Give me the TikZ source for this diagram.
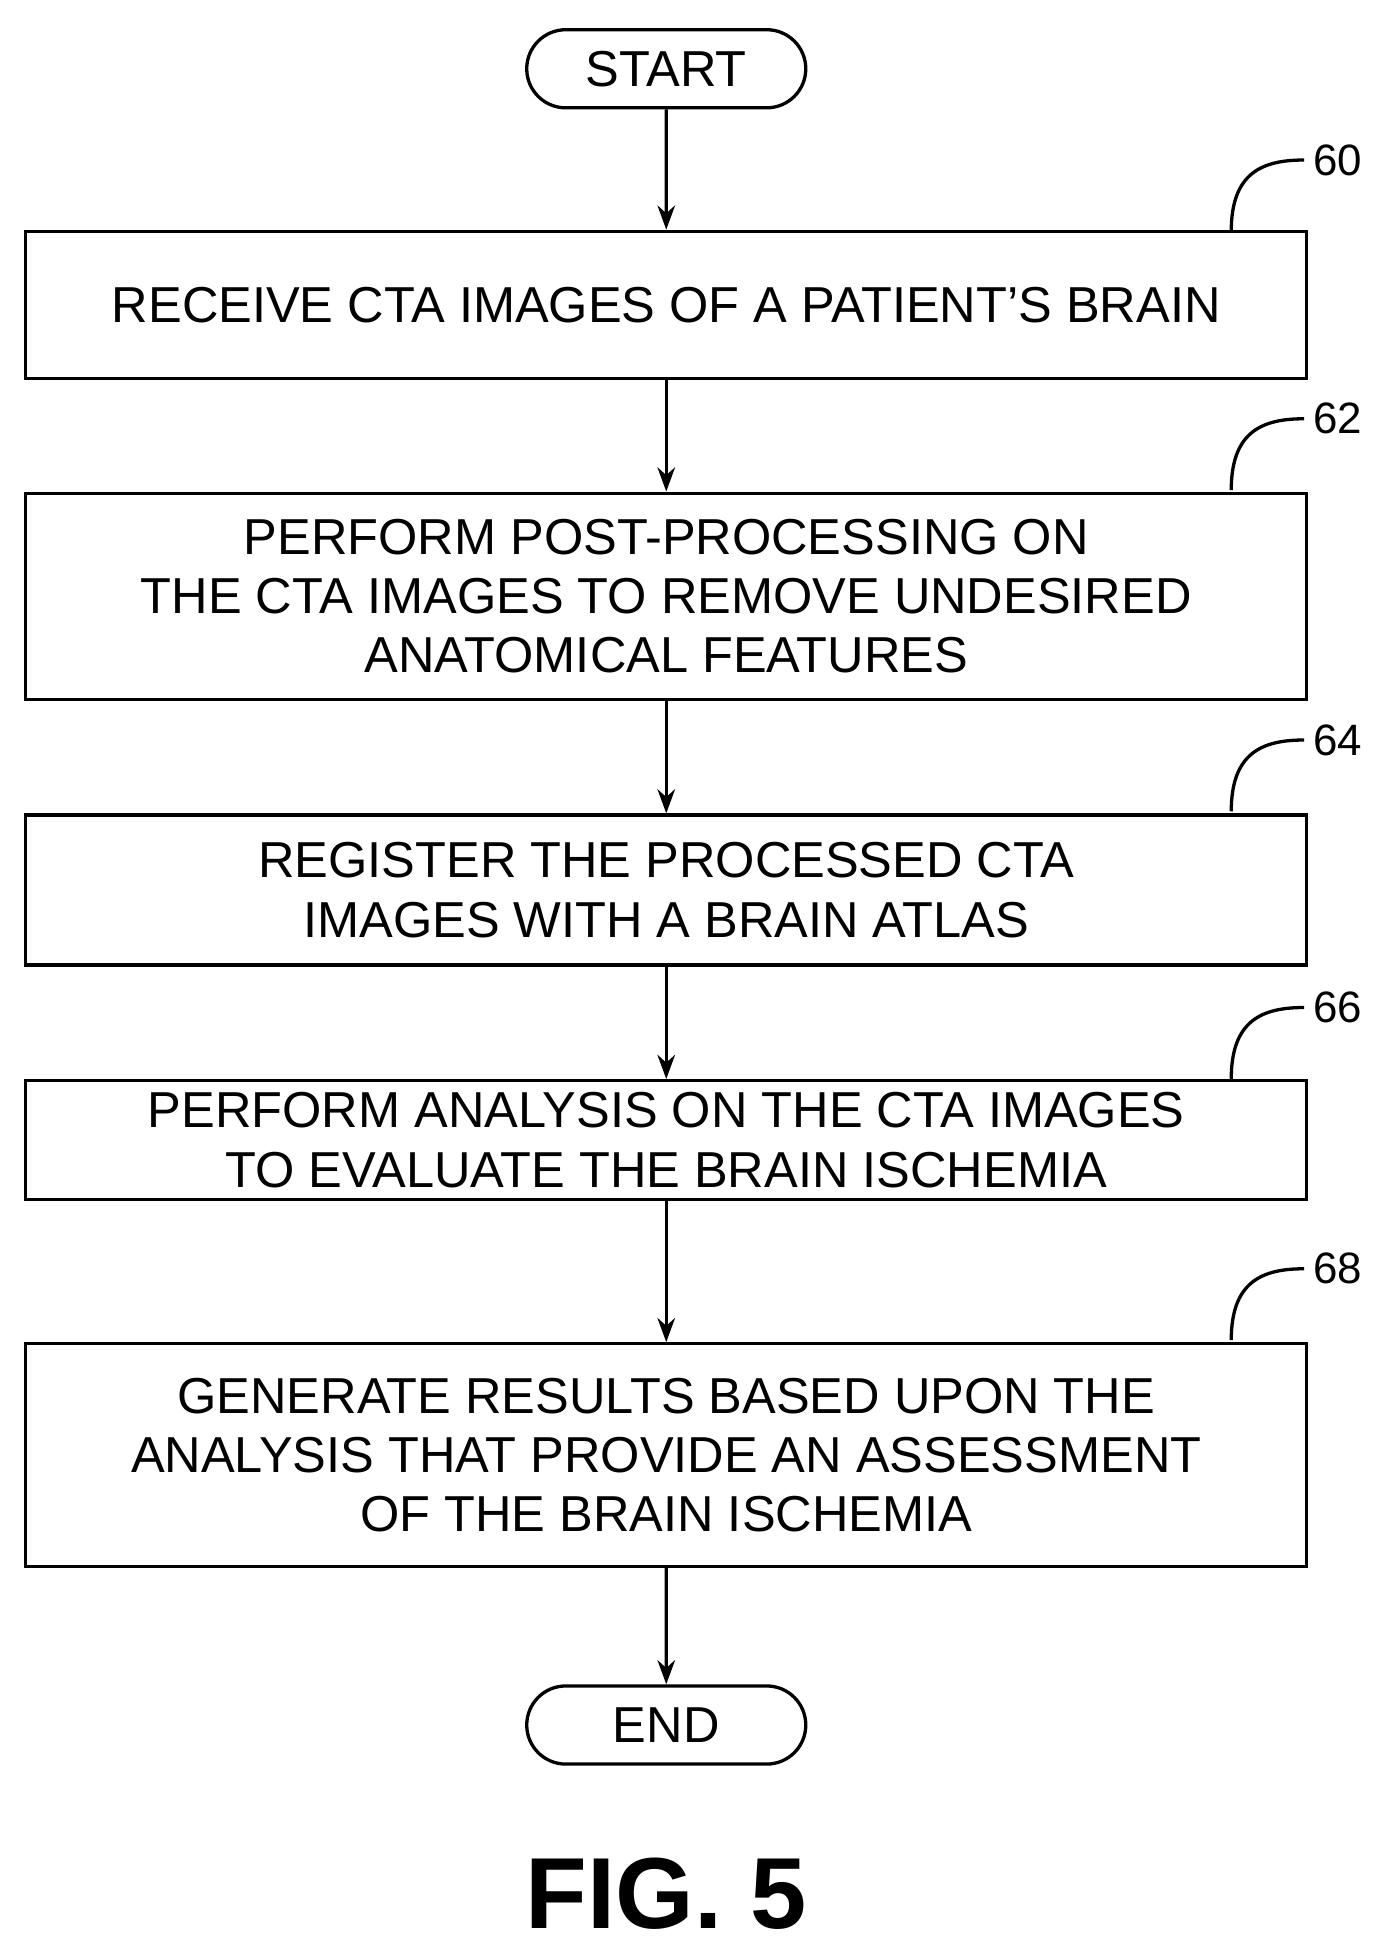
\documentclass[tikz,border=0pt]{standalone}
\usepackage{fontspec}
\setmainfont{Liberation Sans}
\usetikzlibrary{positioning,shapes.misc,arrows.meta}
\begin{document}
\begin{tikzpicture}[x=0.02cm,y=-0.02cm,-{Stealth[length=11pt,width=8pt]},line width=1.5pt,
    every node/.style={font=\fontsize{23}{27}\selectfont,align=center},
    stepbox/.style={draw=black,rectangle,minimum width=20.5cm},
    term/.style={draw=black,rounded rectangle,minimum width=4.7cm,minimum height=1.25cm},
    ref/.style={font=\fontsize{20}{22}\selectfont}]
  \useasboundingbox (0,0) rectangle (1110,1560);
  \node[term] (start) at (533,55) {START};
  \node[stepbox,minimum height=2.36cm] (s60) at (533,244) {RECEIVE CTA IMAGES OF A PATIENT'S BRAIN};
  \node[stepbox,minimum height=3.3cm] (s62) at (533,477) {PERFORM POST-PROCESSING ON\\THE CTA IMAGES TO REMOVE UNDESIRED\\ANATOMICAL FEATURES};
  \node[stepbox,minimum height=2.4cm] (s64) at (533,712) {REGISTER THE PROCESSED CTA\\IMAGES WITH A BRAIN ATLAS};
  \node[stepbox,minimum height=1.9cm] (s66) at (533,912) {PERFORM ANALYSIS ON THE CTA IMAGES\\TO EVALUATE THE BRAIN ISCHEMIA};
  \node[stepbox,minimum height=3.56cm] (s68) at (533,1164) {GENERATE RESULTS BASED UPON THE\\ANALYSIS THAT PROVIDE AN ASSESSMENT\\OF THE BRAIN ISCHEMIA};
  \node[term] (end) at (533,1380) {END};
  \node[font=\bfseries\fontsize{46}{50}\selectfont] (fig) at (533,1515) {FIG. 5};
  % arrows
  \draw (start) -- (s60);
  \draw (s60) -- (s62);
  \draw (s62) -- (s64);
  \draw (s64) -- (s66);
  \draw (s66) -- (s68);
  \draw (s68) -- (end);
  % reference numerals
  \foreach \n/\y in {60/128,62/335,64/592,66/806,68/1015}{
    \node[ref] (l\n) at (1070,\y) {\n};
    \draw[-] (985,\y+57) .. controls (985,\y+10) and (1010,\y) .. (l\n.west);
  }
\end{tikzpicture}
\end{document}
